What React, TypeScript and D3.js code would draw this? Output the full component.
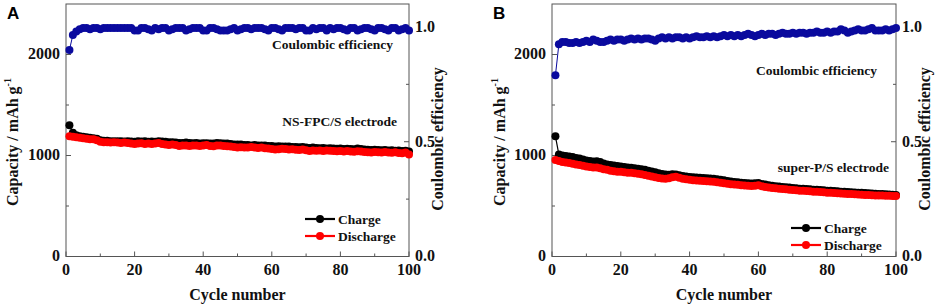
import React from "react";
import * as d3 from "d3";

const cycles: number[] = Array.from({ length: 100 }, (_, i) => i + 1);

const chargeA: number[] = [
  1300, 1225, 1200, 1190, 1185, 1180, 1175, 1170, 1165, 1150,
  1145, 1145, 1140, 1140, 1140, 1140, 1138, 1140, 1138, 1135,
  1140, 1138, 1140, 1135, 1138, 1135, 1140, 1138, 1135, 1130,
  1130, 1128, 1125, 1125, 1128, 1125, 1122, 1125, 1120, 1122,
  1122, 1120, 1120, 1125, 1122, 1120, 1118, 1115, 1110, 1110,
  1108, 1105, 1105, 1100, 1105, 1100, 1098, 1100, 1095, 1095,
  1090, 1092, 1090, 1088, 1090, 1085, 1085, 1082, 1085, 1080,
  1075, 1078, 1075, 1072, 1075, 1070, 1072, 1070, 1068, 1070,
  1065, 1068, 1065, 1062, 1070, 1065, 1060, 1058, 1055, 1058,
  1055, 1052, 1055, 1050, 1052, 1048, 1050, 1045, 1048, 1040,
];

const dischargeA: number[] = [
  1190, 1185, 1180, 1175, 1172, 1165, 1160, 1160, 1150, 1135,
  1130, 1130, 1128, 1130, 1128, 1125, 1128, 1125, 1120, 1115,
  1118, 1122, 1115, 1120, 1115, 1118, 1125, 1115, 1110, 1105,
  1108, 1105, 1095, 1098, 1100, 1095, 1100, 1098, 1095, 1100,
  1105, 1095, 1092, 1100, 1098, 1095, 1092, 1088, 1085, 1080,
  1082, 1080, 1078, 1085, 1080, 1075, 1078, 1072, 1070, 1065,
  1060, 1062, 1068, 1065, 1060, 1062, 1058, 1055, 1060, 1052,
  1045, 1050, 1048, 1050, 1045, 1050, 1048, 1045, 1042, 1045,
  1040, 1045, 1040, 1038, 1042, 1040, 1035, 1032, 1030, 1035,
  1032, 1030, 1035, 1030, 1028, 1032, 1025, 1022, 1030, 1010,
];

const ceA: number[] = [
  0.9, 0.965, 0.98, 0.99, 0.995, 0.995, 0.99, 0.995, 0.995, 0.99,
  0.995, 0.995, 0.995, 0.995, 0.995, 0.995, 0.995, 0.995, 0.995, 0.985,
  0.985, 0.995, 0.995, 0.99, 0.985, 0.995, 0.99, 0.995, 0.995, 0.985,
  0.99, 0.995, 0.995, 0.995, 0.985, 0.99, 0.995, 0.995, 0.995, 0.985,
  0.985, 0.995, 0.995, 0.99, 0.985, 0.985, 0.985, 0.99, 0.995, 0.985,
  0.99, 0.995, 0.995, 0.99, 0.995, 0.995, 0.995, 0.99, 0.985, 0.995,
  0.995, 0.99, 0.985, 0.995, 0.995, 0.995, 0.99, 0.995, 0.995, 0.985,
  0.985, 0.995, 0.99, 0.995, 0.995, 0.985, 0.995, 0.99, 0.995, 0.995,
  0.99, 0.985, 0.995, 0.995, 0.985, 0.99, 0.995, 0.995, 0.99, 0.985,
  0.995, 0.995, 0.99, 0.985, 0.995, 0.995, 0.985, 0.99, 0.995, 0.985,
];

const chargeB: number[] = [
  1190, 1010, 1000, 995, 990, 985, 975, 970, 960, 950,
  945, 940, 942, 935, 920, 912, 905, 900, 895, 890,
  885, 880, 878, 875, 870, 865, 858, 850, 842, 835,
  825, 818, 812, 810, 815, 812, 805, 798, 792, 788,
  785, 782, 780, 778, 775, 772, 770, 765, 760, 755,
  748, 742, 738, 735, 730, 728, 725, 722, 725, 728,
  718, 712, 705, 700, 695, 692, 688, 685, 682, 678,
  675, 672, 670, 668, 665, 662, 660, 658, 655, 652,
  650, 648, 645, 642, 640, 638, 636, 634, 632, 630,
  628, 626, 624, 622, 620, 618, 616, 614, 612, 610,
];

const dischargeB: number[] = [
  955, 945, 935, 930, 925, 918, 912, 905, 898, 890,
  885, 880, 882, 875, 865, 858, 850, 845, 840, 838,
  835, 830, 828, 825, 820, 815, 808, 800, 792, 785,
  778, 772, 770, 775, 785, 790, 780, 770, 765, 760,
  755, 752, 750, 748, 745, 742, 740, 735, 730, 725,
  720, 715, 712, 710, 705, 702, 700, 698, 700, 705,
  695, 688, 682, 678, 675, 670, 668, 665, 662, 658,
  655, 652, 650, 648, 645, 642, 640, 638, 635, 632,
  630, 628, 626, 624, 622, 620, 618, 616, 614, 612,
  610, 608, 606, 605, 604, 603, 602, 601, 600, 598,
];

const ceB: number[] = [
  0.79, 0.925, 0.935, 0.935, 0.93, 0.93, 0.935, 0.93, 0.935, 0.94,
  0.935, 0.945, 0.94, 0.935, 0.935, 0.94, 0.945, 0.94, 0.945, 0.945,
  0.94, 0.945, 0.95, 0.945, 0.95, 0.945, 0.95, 0.95, 0.945, 0.94,
  0.95, 0.955, 0.95, 0.955, 0.95, 0.955, 0.955, 0.95, 0.955, 0.95,
  0.955, 0.96, 0.955, 0.955, 0.96, 0.955, 0.96, 0.955, 0.96, 0.965,
  0.96, 0.965, 0.96, 0.965, 0.96, 0.965, 0.97, 0.965, 0.96, 0.965,
  0.97, 0.965, 0.97, 0.97, 0.965, 0.97, 0.975, 0.97, 0.97, 0.975,
  0.97, 0.975, 0.975, 0.97, 0.975, 0.975, 0.98, 0.975, 0.975, 0.98,
  0.975, 0.98, 0.98, 0.99, 0.985, 0.975, 0.98, 0.985, 0.99, 0.985,
  0.985, 0.99, 0.995, 0.985, 0.985, 0.985, 0.99, 0.985, 0.99, 0.995,
];

const xMajor: number[] = [0, 20, 40, 60, 80, 100];
const xMinor: number[] = [10, 30, 50, 70, 90];
const capMajor: number[] = [0, 1000, 2000];
const capMinor: number[] = [500, 1500];
const ceMajor: number[] = [0, 0.5, 1.0];
const ceMinor: number[] = [0.25, 0.75];

const SERIF = "'Liberation Serif', 'Times New Roman', serif";
const SANS = "'Liberation Sans', Arial, sans-serif";
const BLUE = "#0a0a9e";
const RED = "#ff0000";
const BLACK = "#000000";
const AXIS = "#555555";

interface PanelProps {
  letter: string;
  x0: number;
  x1: number;
  charge: number[];
  discharge: number[];
  ce: number[];
  ceLabel: { x: number; y: number };
  elecLabel: { x: number; y: number; text: string };
  legend: { x: number; y: number };
  leftTitleX: number;
  rightTitleX: number;
  letterX: number;
}

function Panel(p: PanelProps) {
  const top = 4;
  const bottom = 256.5;
  const x = d3.scaleLinear().domain([0, 100]).range([p.x0, p.x1]);
  const yCap = d3.scaleLinear().domain([0, 2500]).range([bottom, top]);
  const yCe = d3.scaleLinear().domain([0, 1.1]).range([bottom, top]);

  const capLine = d3
    .line<number>()
    .x((_, i) => x(cycles[i]))
    .y((d) => yCap(d));
  const ceLine = d3
    .line<number>()
    .x((_, i) => x(cycles[i]))
    .y((d) => yCe(d));

  const r = 4;
  const fmtCe = d3.format(".1f");

  return (
    <g>
      <text x={p.letterX} y={19} fontFamily={SANS} fontWeight="bold" fontSize={17} fill="#000">
        {p.letter}
      </text>
      <rect x={p.x0} y={top} width={p.x1 - p.x0} height={bottom - top} fill="none" stroke={AXIS} strokeWidth={1} />

      {xMajor.map((t) => (
        <g key={"xm" + t}>
          <line x1={x(t)} x2={x(t)} y1={bottom} y2={bottom - 5} stroke={AXIS} />
          <text x={x(t)} y={274.5} textAnchor="middle" fontFamily={SERIF} fontWeight="bold" fontSize={16} fill="#111">
            {t}
          </text>
        </g>
      ))}
      {xMinor.map((t) => (
        <line key={"xn" + t} x1={x(t)} x2={x(t)} y1={bottom} y2={bottom - 3} stroke={AXIS} />
      ))}

      {capMajor.map((t) => (
        <g key={"cm" + t}>
          <line x1={p.x0} x2={p.x0 + 5} y1={yCap(t)} y2={yCap(t)} stroke={AXIS} />
          <text x={p.x0 - 6} y={yCap(t)} dy="0.3em" textAnchor="end" fontFamily={SERIF} fontWeight="bold" fontSize={16} fill="#111">
            {t}
          </text>
        </g>
      ))}
      {capMinor.map((t) => (
        <line key={"cn" + t} x1={p.x0} x2={p.x0 + 3} y1={yCap(t)} y2={yCap(t)} stroke={AXIS} />
      ))}

      {ceMajor.map((t) => (
        <g key={"em" + t}>
          <line x1={p.x1} x2={p.x1 - 5} y1={yCe(t)} y2={yCe(t)} stroke={AXIS} />
          <text x={p.x1 + 6} y={yCe(t)} dy="0.3em" textAnchor="start" fontFamily={SERIF} fontWeight="bold" fontSize={16} fill="#111">
            {fmtCe(t)}
          </text>
        </g>
      ))}
      {ceMinor.map((t) => (
        <line key={"en" + t} x1={p.x1} x2={p.x1 - 3} y1={yCe(t)} y2={yCe(t)} stroke={AXIS} />
      ))}

      <text x={(p.x0 + p.x1) / 2} y={300} textAnchor="middle" fontFamily={SERIF} fontWeight="bold" fontSize={16} fill="#111">
        Cycle number
      </text>
      <text
        transform={`translate(${p.leftTitleX},${142}) rotate(-90)`}
        textAnchor="middle"
        fontFamily={SERIF}
        fontWeight="bold"
        fontSize={16}
        fill="#111"
      >
        Capacity / mAh g
        <tspan fontSize={10} dy={-7}>
          -1
        </tspan>
      </text>
      <text
        transform={`translate(${p.rightTitleX},${139}) rotate(-90)`}
        textAnchor="middle"
        fontFamily={SERIF}
        fontWeight="bold"
        fontSize={16}
        fill="#111"
      >
        Coulombic efficiency
      </text>

      <path d={ceLine(p.ce) || ""} fill="none" stroke={BLUE} strokeWidth={1} />
      {p.ce.map((v, i) => (
        <circle key={"ce" + i} cx={x(cycles[i])} cy={yCe(v)} r={r} fill={BLUE} />
      ))}
      <path d={capLine(p.charge) || ""} fill="none" stroke={BLACK} strokeWidth={1.2} />
      {p.charge.map((v, i) => (
        <circle key={"ch" + i} cx={x(cycles[i])} cy={yCap(v)} r={r} fill={BLACK} />
      ))}
      <path d={capLine(p.discharge) || ""} fill="none" stroke={RED} strokeWidth={1.2} />
      {p.discharge.map((v, i) => (
        <circle key={"dc" + i} cx={x(cycles[i])} cy={yCap(v)} r={r} fill={RED} />
      ))}

      <text x={p.ceLabel.x} y={p.ceLabel.y} textAnchor="end" fontFamily={SERIF} fontWeight="bold" fontSize={13.5} fill="#111">
        Coulombic efficiency
      </text>
      <text x={p.elecLabel.x} y={p.elecLabel.y} textAnchor="end" fontFamily={SERIF} fontWeight="bold" fontSize={13.5} fill="#111">
        {p.elecLabel.text}
      </text>

      {[
        { label: "Charge", color: BLACK, dy: 0 },
        { label: "Discharge", color: RED, dy: 17 },
      ].map((L) => (
        <g key={L.label}>
          <line x1={p.legend.x} x2={p.legend.x + 30} y1={p.legend.y + L.dy} y2={p.legend.y + L.dy} stroke={L.color} strokeWidth={2.2} />
          <circle cx={p.legend.x + 15} cy={p.legend.y + L.dy} r={r} fill={L.color} />
          <text x={p.legend.x + 33} y={p.legend.y + L.dy + 4.5} fontFamily={SERIF} fontWeight="bold" fontSize={13.5} fill="#111">
            {L.label}
          </text>
        </g>
      ))}
    </g>
  );
}

export default function App() {
  return (
    <svg
      width={941}
      height={308}
      viewBox="0 0 941 308"
      style={{ position: "absolute", left: 0, top: 0, background: "#fff" }}
    >
      <rect x={0} y={0} width={941} height={308} fill="#fff" />
      <Panel
        letter="A"
        letterX={7}
        x0={66}
        x1={409}
        charge={chargeA}
        discharge={dischargeA}
        ce={ceA}
        ceLabel={{ x: 393, y: 49 }}
        elecLabel={{ x: 397, y: 126, text: "NS-FPC/S electrode" }}
        legend={{ x: 305, y: 219 }}
        leftTitleX={18}
        rightTitleX={443}
      />
      <Panel
        letter="B"
        letterX={493}
        x0={552}
        x1={896}
        charge={chargeB}
        discharge={dischargeB}
        ce={ceB}
        ceLabel={{ x: 877, y: 75 }}
        elecLabel={{ x: 889, y: 172, text: "super-P/S electrode" }}
        legend={{ x: 791, y: 228 }}
        leftTitleX={505}
        rightTitleX={930}
      />
    </svg>
  );
}
